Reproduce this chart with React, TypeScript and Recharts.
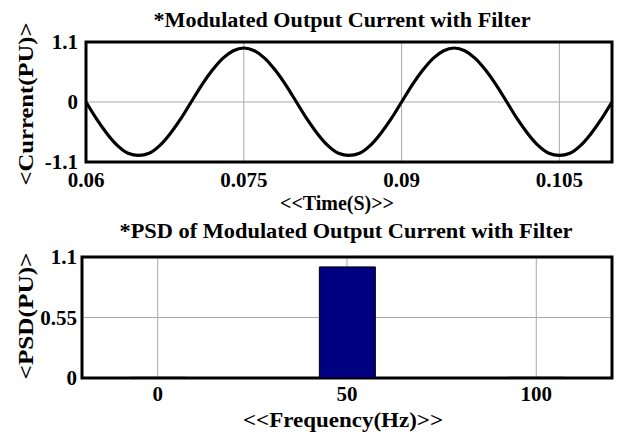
import React from "react";
import {
  ComposedChart,
  LineChart,
  Line,
  Bar,
  XAxis,
  YAxis,
  CartesianGrid,
  ReferenceArea,
} from "recharts";

// ---- Top plot: modulated output current ----
const timeValues = [
  0.06, 0.061, 0.062, 0.063, 0.064, 0.065, 0.066, 0.067, 0.068, 0.069,
  0.07, 0.071, 0.072, 0.073, 0.074, 0.075, 0.076, 0.077, 0.078, 0.079,
  0.08, 0.081, 0.082, 0.083, 0.084, 0.085, 0.086, 0.087, 0.088, 0.089,
  0.09, 0.091, 0.092, 0.093, 0.094, 0.095, 0.096, 0.097, 0.098, 0.099,
  0.1, 0.101, 0.102, 0.103, 0.104, 0.105, 0.106, 0.107, 0.108, 0.109,
  0.11,
];
const currentValues = [
  0, -0.31, -0.58, -0.8, -0.94, -0.98, -0.94, -0.8, -0.58, -0.31,
  0, 0.31, 0.58, 0.8, 0.94, 0.99, 0.94, 0.8, 0.58, 0.31,
  0, -0.31, -0.58, -0.8, -0.94, -0.98, -0.94, -0.8, -0.58, -0.31,
  0, 0.31, 0.58, 0.8, 0.94, 0.99, 0.94, 0.8, 0.58, 0.31,
  0, -0.31, -0.58, -0.8, -0.94, -0.98, -0.94, -0.8, -0.58, -0.31,
  0,
];
const timeTicks = [0.06, 0.075, 0.09, 0.105];
const currentTicks = [-1.1, 0, 1.1];

// ---- Bottom plot: PSD ----
const freqValues = [0, 50, 100];
const psdValues = [0.006, 1.01, 0.006];
const freqTicks = [0, 50, 100];
const psdTicks = [0, 0.55, 1.1];

const currentData = timeValues.map((t, i) => ({ t, v: currentValues[i] }));
const psdData = freqValues.map((f, i) => ({ f, p: psdValues[i] }));

const FONT = "'Liberation Serif', 'Times New Roman', serif";
const tickStyle = {
  fontSize: 21,
  fontWeight: "bold",
  fill: "#000",
  fontFamily: FONT,
};

const fmtTime = (v: number) => String(v);

export default function App() {
  return (
    <div
      style={{
        position: "absolute",
        left: 0,
        top: 0,
        width: 617,
        height: 437,
        background: "#fff",
      }}
    >
      <div style={{ position: "absolute", left: 0, top: 0 }}>
        <LineChart
          width={617}
          height={200}
          data={currentData}
          margin={{ top: 42, right: 5, bottom: 0, left: 0 }}
        >
          <CartesianGrid stroke="#aaa" strokeWidth={1} />
          <XAxis
            dataKey="t"
            type="number"
            domain={[0.06, 0.11]}
            ticks={timeTicks}
            tickFormatter={fmtTime}
            allowDataOverflow
            height={38}
            axisLine={false}
            tickLine={false}
            tickSize={0}
            tickMargin={10}
            tick={tickStyle}
            interval={0}
          />
          <YAxis
            type="number"
            domain={[-1.1, 1.1]}
            ticks={currentTicks}
            allowDataOverflow
            width={86}
            axisLine={false}
            tickLine={false}
            tickSize={0}
            tickMargin={8}
            tick={tickStyle}
            interval={0}
          />
          <Line
            dataKey="v"
            type="monotone"
            stroke="#000"
            strokeWidth={3.2}
            dot={false}
            isAnimationActive={false}
          />
          <ReferenceArea
            x1={0.06}
            x2={0.11}
            y1={-1.1}
            y2={1.1}
            fill="none"
            stroke="#000"
            strokeWidth={3}
            ifOverflow="visible"
          />
        </LineChart>
      </div>
      <div style={{ position: "absolute", left: 0, top: 200 }}>
        <ComposedChart
          width={617}
          height={237}
          data={psdData}
          margin={{ top: 57, right: 5, bottom: 0, left: 0 }}
        >
          <CartesianGrid stroke="#aaa" strokeWidth={1} />
          <XAxis
            dataKey="f"
            type="number"
            domain={[-20, 120]}
            ticks={freqTicks}
            allowDataOverflow
            height={59}
            axisLine={false}
            tickLine={false}
            tickSize={0}
            tickMargin={8}
            tick={tickStyle}
            interval={0}
          />
          <YAxis
            type="number"
            domain={[0, 1.1]}
            ticks={psdTicks}
            allowDataOverflow
            width={82}
            axisLine={false}
            tickLine={false}
            tickSize={0}
            tickMargin={5}
            tick={tickStyle}
            interval={0}
          />
          <Bar
            dataKey="p"
            fill="#000080"
            stroke="#000"
            strokeWidth={1}
            barSize={56}
            isAnimationActive={false}
          />
          <ReferenceArea
            x1={-20}
            x2={120}
            y1={0}
            y2={1.1}
            fill="none"
            stroke="#000"
            strokeWidth={3}
            ifOverflow="visible"
          />
        </ComposedChart>
      </div>
      <svg
        width={617}
        height={437}
        style={{ position: "absolute", left: 0, top: 0, pointerEvents: "none" }}
      >
        <g fontFamily={FONT} fontWeight="bold" fill="#000">
          <text
            x={342}
            y={27}
            textAnchor="middle"
            fontSize={22}
            textLength={377}
            lengthAdjust="spacingAndGlyphs"
          >
            *Modulated Output Current with Filter
          </text>
          <text
            x={337}
            y={210}
            textAnchor="middle"
            fontSize={20}
            textLength={114}
            lengthAdjust="spacingAndGlyphs"
          >
            {"<<Time(S)>>"}
          </text>
          <text
            x={346}
            y={238}
            textAnchor="middle"
            fontSize={22}
            textLength={453}
            lengthAdjust="spacingAndGlyphs"
          >
            *PSD of Modulated Output Current with Filter
          </text>
          <text
            x={343}
            y={427}
            textAnchor="middle"
            fontSize={22}
            textLength={200}
            lengthAdjust="spacingAndGlyphs"
          >
            {"<<Frequency(Hz)>>"}
          </text>
          <text
            x={0}
            y={0}
            textAnchor="middle"
            fontSize={22}
            textLength={163}
            lengthAdjust="spacingAndGlyphs"
            transform="translate(33,104) rotate(-90)"
          >
            {"<Current(PU)>"}
          </text>
          <text
            x={0}
            y={0}
            textAnchor="middle"
            fontSize={22}
            textLength={127}
            lengthAdjust="spacingAndGlyphs"
            transform="translate(33,316) rotate(-90)"
          >
            {"<PSD(PU)>"}
          </text>
        </g>
      </svg>
    </div>
  );
}
